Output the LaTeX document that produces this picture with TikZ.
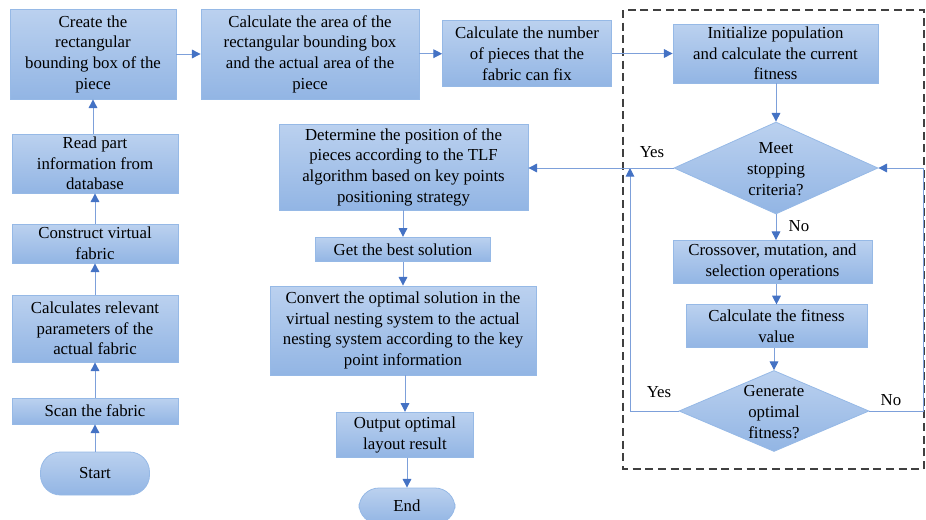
\documentclass[tikz,border=0pt]{standalone}
\usepackage{fontspec}
\setmainfont{Liberation Serif}
\usetikzlibrary{arrows.meta,shapes.geometric}
\definecolor{boxborder}{RGB}{150,185,230}
\definecolor{filltop}{RGB}{187,209,239}
\definecolor{fillbot}{RGB}{146,181,228}
\definecolor{lineblue}{RGB}{125,160,218}
\definecolor{headblue}{RGB}{68,114,196}
\definecolor{dashgray}{RGB}{64,64,64}
\newcommand{\mainsize}{\fontsize{12.6}{15.5}\selectfont}
\tikzset{
  box/.style={draw=boxborder, top color=filltop, bottom color=fillbot, line width=0.6pt,
    align=center, inner sep=0pt, font=\mainsize, text=black},
  term/.style={box, rounded corners=15pt},
  txt/.style={align=center, inner sep=0pt, font=\mainsize, text=black},
  arr/.style={draw=lineblue, line width=0.75pt, -{Triangle[length=6.5pt,width=6.5pt,color=headblue]}}
}
\begin{document}
\begin{tikzpicture}[x=0.75pt,y=-0.75pt]
\useasboundingbox (0,0) rectangle (926,519);
\clip (0,0) rectangle (926,519);

% dashed frame
\draw[dashgray, line width=1.1pt, dash pattern=on 6pt off 3.5pt] (623,10) rectangle (924,469);

% left column
\node[box, minimum width=124.5pt, minimum height=67.5pt] (create) at (93,54) {Create the\\rectangular\\bounding box of the\\piece};
\node[box, minimum width=124.5pt, minimum height=44.25pt] (read) at (95,163.5) {Read part\\information from\\database};
\node[box, minimum width=124.5pt, minimum height=29.25pt] (construct) at (95,243.5) {Construct virtual\\fabric};
\node[box, minimum width=124.5pt, minimum height=50.25pt] (params) at (95,328.5) {Calculates relevant\\parameters of the\\actual fabric};
\node[box, minimum width=124.5pt, minimum height=19.5pt] (scan) at (95,411) {Scan the fabric};
\node[term, minimum width=81.75pt, minimum height=32.25pt] (start) at (95,473.5) {Start};

% top row
\node[box, minimum width=163.5pt, minimum height=67.5pt] (area) at (310,54) {Calculate the area of the\\rectangular bounding box\\and the actual area of the\\piece};
\node[box, minimum width=126.75pt, minimum height=49.5pt] (number) at (527,53.7) {Calculate the number\\of pieces that the\\fabric can fix};

% right (GA) part
\node[box, minimum width=153.75pt, minimum height=44.25pt] (init) at (775.5,53.5) {Initialize population\\and calculate the current\\fitness};
\node[box, shape=diamond, minimum width=153pt, minimum height=69pt] (stop) at (776,168) {};
\node[txt] (stoptxt) at (776,169) {Meet\\stopping\\criteria?};
\node[box, minimum width=149.25pt, minimum height=32.25pt] (cross) at (772.5,262) {Crossover, mutation, and\\selection operations};
\node[box, minimum width=135.75pt, minimum height=32.25pt] (fit) at (776.5,326.3) {Calculate the fitness\\value};
\node[box, shape=diamond, minimum width=142.5pt, minimum height=60.75pt] (gen) at (774,411) {};
\node[txt] (gentxt) at (774,412) {Generate\\optimal\\fitness?};

% middle column
\node[box, minimum width=186.75pt, minimum height=64.5pt] (determine) at (403.5,167) {Determine the position of the\\pieces according to the TLF\\algorithm based on key points\\positioning strategy};
\node[box, minimum width=131.25pt, minimum height=18.4pt] (best) at (403,249.5) {Get the best solution};
\node[box, minimum width=199.5pt, minimum height=66.75pt] (convert) at (403,330.5) {Convert the optimal solution in the\\virtual nesting system to the actual\\nesting system according to the key\\point information};
\node[box, minimum width=102.75pt, minimum height=33.75pt] (output) at (405,434.7) {Output optimal\\layout result};
\node[term, minimum width=72pt, minimum height=27pt] (end) at (407,506) {End};

% labels
\node[txt] (yes1) at (652,152) {Yes};
\node[txt] (no1) at (799,226) {No};
\node[txt] (yes2) at (659,392) {Yes};
\node[txt] (no2) at (891,400) {No};

\coordinate (rx) at (923,411);
\coordinate (lx) at (630,411);
\coordinate (ly) at (630,168);

% connectors
\draw[arr] (start) -- (scan);
\draw[arr] (scan) -- (params);
\draw[arr] (params) -- (construct);
\draw[arr] (construct) -- (read);
\draw[arr] (read.north -| create.south) -- (create);
\draw[arr] (create.east |- area.west) -- (area.west);
\draw[arr] (area.east |- number.west) -- (number.west);
\draw[arr] (number.east |- init.west) -- (init.west);
\draw[arr] (init.south -| stop.north) -- (stop.north);
\draw[arr] (stop.south) -- (stop.south |- cross.north);
\draw[arr] (fit.north |- cross.south) -- (fit.north);
\draw[arr] (fit.south -| gen.north) -- (gen.north);
\draw[arr] (gen.east) -- (rx) |- (stop.east);
\draw[arr] (gen.west) -- (lx) -- (ly);
\draw[arr] (stop.west) -- (determine.east |- stop.west);
\draw[arr] (determine.south -| best.north) -- (best.north);
\draw[arr] (best.south) -- (convert.north -| best.south);
\draw[arr] (convert.south -| output.north) -- (output.north);
\draw[arr] (output.south -| end.north) -- (end.north);
\end{tikzpicture}
\end{document}
